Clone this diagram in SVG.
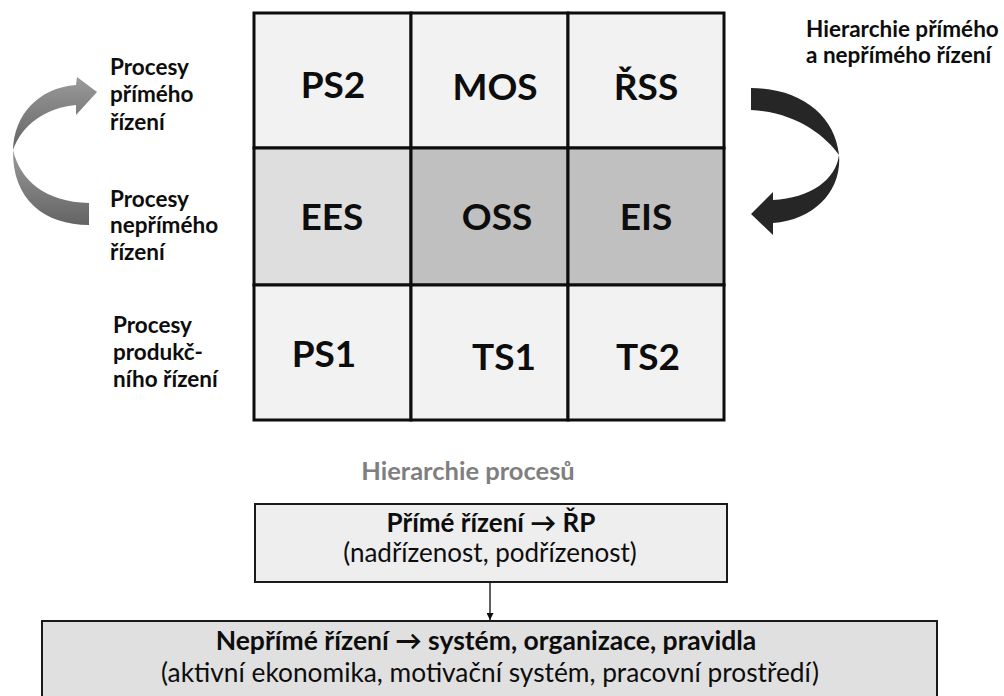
<svg xmlns="http://www.w3.org/2000/svg" width="1004" height="696" viewBox="0 0 1004 696">
<defs>
<style>
.t{font-family:Lato,"Open Sans","DejaVu Sans",sans-serif;fill:#0d0d0d}
.b{font-weight:bold}
.cell{stroke:#0d0d0d;stroke-width:3}
.big{font-size:37px;font-weight:bold;text-anchor:middle}
.lab{font-size:22.5px;font-weight:bold}
.box{stroke:#1a1a1a;stroke-width:2}
.m{text-anchor:middle}
</style>
<linearGradient id="gl" x1="0" y1="0" x2="0" y2="1">
<stop offset="0" stop-color="#9a9a9a"/>
<stop offset="1" stop-color="#646464"/>
</linearGradient>
<marker id="ah" viewBox="0 0 10 10" refX="10" refY="5" markerWidth="7" markerHeight="7" orient="auto" markerUnits="userSpaceOnUse">
<path d="M0 0 L10 5 L0 10 Z" fill="#0d0d0d"/>
</marker>
</defs>
<rect width="1004" height="696" fill="#ffffff"/>

<g id="grid">
<g id="PS2"><rect class="cell" x="254" y="13" width="157" height="135" fill="#f2f2f2"/><text class="t big" x="333" y="98">PS2</text></g>
<g id="MOS"><rect class="cell" x="411" y="13" width="157" height="135" fill="#f2f2f2"/><text class="t big" x="495" y="100">MOS</text></g>
<g id="RSS"><rect class="cell" x="568" y="13" width="156" height="135" fill="#f2f2f2"/><text class="t big" x="646" y="100">ŘSS</text></g>
<g id="EES"><rect class="cell" x="254" y="148" width="157" height="137" fill="#dedede"/><text class="t big" x="332" y="230">EES</text></g>
<g id="OSS"><rect class="cell" x="411" y="148" width="157" height="137" fill="#c0c0c0"/><text class="t big" x="497" y="230">OSS</text></g>
<g id="EIS"><rect class="cell" x="568" y="148" width="156" height="137" fill="#c0c0c0"/><text class="t big" x="646" y="230">EIS</text></g>
<g id="PS1"><rect class="cell" x="254" y="285" width="157" height="135" fill="#f2f2f2"/><text class="t big" x="324" y="367">PS1</text></g>
<g id="TS1"><rect class="cell" x="411" y="285" width="157" height="135" fill="#f2f2f2"/><text class="t big" x="504" y="370">TS1</text></g>
<g id="TS2"><rect class="cell" x="568" y="285" width="156" height="135" fill="#f2f2f2"/><text class="t big" x="648" y="370">TS2</text></g>
</g>

<g id="labels-left">
<text class="t lab" x="110" y="75">Procesy</text>
<text class="t lab" x="110" y="102">přímého</text>
<text class="t lab" x="110" y="130">řízení</text>
<text class="t lab" x="110" y="207">Procesy</text>
<text class="t lab" x="110" y="233">nepřímého</text>
<text class="t lab" x="110" y="260">řízení</text>
<text class="t lab" x="113" y="333">Procesy</text>
<text class="t lab" x="113" y="360">produkč-</text>
<text class="t lab" x="113" y="387">ního řízení</text>
</g>

<g id="labels-right">
<text class="t lab" x="806" y="37">Hierarchie přímého</text>
<text class="t lab" x="806" y="63">a nepřímého řízení</text>
</g>

<g id="arrow-left">
<path fill="url(#gl)" d="M13 150 C14 115 38 88 76 85 L77 77 L97 92 L76 115 L76 105 C45 108 22 125 13 150 Z"/>
<path fill="url(#gl)" d="M13 150 C20 180 45 202 89 203 L89 225 C45 225 12 200 13 150 Z"/>
</g>

<g id="arrow-right">
<path fill="#262626" d="M751 88 C800 88 835 115 839 155 C825 135 795 112 751 110 Z"/>
<path fill="#262626" d="M839 155 C836 180 810 198 773 200 L773 192 L751 214 L773 235 L773 223 C815 220 842 190 839 155 Z"/>
</g>

<text id="hier" class="t b m" x="468" y="480" font-size="25.5" style="fill:#7f7f7f">Hierarchie procesů</text>

<g id="box1">
<rect class="box" x="255" y="504" width="472" height="78" fill="#eeeeee"/>
<text class="t b m" x="491" y="532" font-size="26">Přímé řízení → ŘP</text>
<text class="t m" x="490" y="562" font-size="26">(nadřízenost, podřízenost)</text>
</g>

<g id="box2">
<rect class="box" x="42" y="621" width="895" height="90" fill="#e0e0e0"/>
<text class="t b m" x="486" y="650" font-size="26.5">Nepřímé řízení → systém, organizace, pravidla</text>
<text class="t m" x="490" y="682" font-size="26.3">(aktivní ekonomika, motivační systém, pracovní prostředí)</text>
</g>

<g id="connectors">
<line x1="490" y1="583" x2="490" y2="620" stroke="#0d0d0d" stroke-width="1.3" marker-end="url(#ah)"/>
</g>
</svg>
